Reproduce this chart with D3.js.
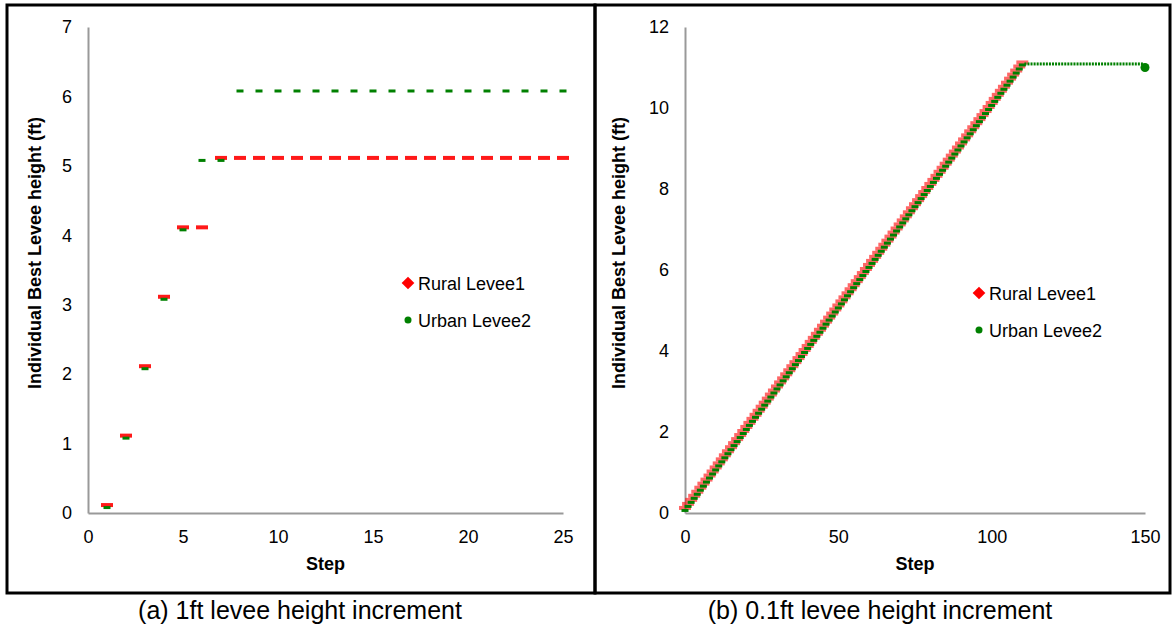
<!DOCTYPE html>
<html>
<head>
<meta charset="utf-8">
<script src="https://cdn.jsdelivr.net/npm/d3@7"></script>
<style>
  body { margin: 0; background: #fff; }
  text { font-family: "Liberation Sans", Arial, sans-serif; }
</style>
</head>
<body>
<div id="canvas"></div>
<script>
// panel (a): 1ft increment, steps 1..25
const stepsA = d3.range(1, 26);
const ruralA = [0.1, 1.1, 2.1, 3.1, 4.1, 4.1, 5.1, 5.1, 5.1, 5.1, 5.1, 5.1, 5.1, 5.1, 5.1, 5.1, 5.1, 5.1, 5.1, 5.1, 5.1, 5.1, 5.1, 5.1, 5.1];
const urbanA = [0.1, 1.1, 2.1, 3.1, 4.1, 5.1, 5.1, 6.1, 6.1, 6.1, 6.1, 6.1, 6.1, 6.1, 6.1, 6.1, 6.1, 6.1, 6.1, 6.1, 6.1, 6.1, 6.1, 6.1, 6.1];

// panel (b): 0.1ft increment, steps 0..150
const ruralB = [
  0.1, 0.2, 0.3, 0.4, 0.5, 0.6, 0.7, 0.8, 0.9, 1.0,
  1.1, 1.2, 1.3, 1.4, 1.5, 1.6, 1.7, 1.8, 1.9, 2.0,
  2.1, 2.2, 2.3, 2.4, 2.5, 2.6, 2.7, 2.8, 2.9, 3.0,
  3.1, 3.2, 3.3, 3.4, 3.5, 3.6, 3.7, 3.8, 3.9, 4.0,
  4.1, 4.2, 4.3, 4.4, 4.5, 4.6, 4.7, 4.8, 4.9, 5.0,
  5.1, 5.2, 5.3, 5.4, 5.5, 5.6, 5.7, 5.8, 5.9, 6.0,
  6.1, 6.2, 6.3, 6.4, 6.5, 6.6, 6.7, 6.8, 6.9, 7.0,
  7.1, 7.2, 7.3, 7.4, 7.5, 7.6, 7.7, 7.8, 7.9, 8.0,
  8.1, 8.2, 8.3, 8.4, 8.5, 8.6, 8.7, 8.8, 8.9, 9.0,
  9.1, 9.2, 9.3, 9.4, 9.5, 9.6, 9.7, 9.8, 9.9, 10.0,
  10.1, 10.2, 10.3, 10.4, 10.5, 10.6, 10.7, 10.8, 10.9, 11.0,
  11.1
];
const urbanBFlat = [
  11.1, 11.1, 11.1, 11.1, 11.1, 11.1, 11.1, 11.1, 11.1, 11.1,
  11.1, 11.1, 11.1, 11.1, 11.1, 11.1, 11.1, 11.1, 11.1, 11.1,
  11.1, 11.1, 11.1, 11.1, 11.1, 11.1, 11.1, 11.1, 11.1, 11.1,
  11.1, 11.1, 11.1, 11.1, 11.1, 11.1, 11.1, 11.1, 11.1
];
const urbanBLast = 11.0;

const yTicksA = [0, 1, 2, 3, 4, 5, 6, 7];
const xTicksA = [0, 5, 10, 15, 20, 25];
const yTicksB = [0, 2, 4, 6, 8, 10, 12];
const xTicksB = [0, 50, 100, 150];

const seriesNames = ["Rural Levee1", "Urban Levee2"];
const red = "#ff0000";
const green = "#008000";
const font = "Liberation Sans, Arial, sans-serif";

const width = 1172;
const height = 631;

const svg = d3.select("#canvas").append("svg")
  .attr("width", width)
  .attr("height", height);

const defs = svg.append("defs");
defs.append("filter").attr("id", "soft")
  .append("feGaussianBlur").attr("stdDeviation", 0.7);

function panel(opt) {
  const g = svg.append("g");

  // frame
  g.append("rect")
    .attr("x", opt.box[0]).attr("y", opt.box[1])
    .attr("width", opt.box[2]).attr("height", opt.box[3])
    .attr("fill", "none").attr("stroke", "#000").attr("stroke-width", 3);

  const x = d3.scaleLinear().domain(opt.xDomain).range([opt.x0, opt.x1]);
  const y = d3.scaleLinear().domain(opt.yDomain).range([513, 27]);

  // axes
  g.append("g")
    .attr("transform", "translate(0,513)")
    .call(d3.axisBottom(x).tickValues(opt.xTicks).tickFormat(d3.format("d")).tickSize(0).tickPadding(17))
    .call(a => a.select(".domain").attr("stroke", "#999").attr("stroke-width", 2))
    .call(a => a.selectAll("text").attr("font-size", 18).attr("fill", "#000").attr("font-family", font));

  g.append("g")
    .attr("transform", `translate(${opt.x0},0)`)
    .call(d3.axisLeft(y).tickValues(opt.yTicks).tickFormat(d3.format("d")).tickSize(0).tickPadding(16))
    .call(a => a.select(".domain").attr("stroke", "#999").attr("stroke-width", 2))
    .call(a => a.selectAll("text").attr("font-size", 18).attr("fill", "#000").attr("font-family", font));

  // axis titles
  g.append("text")
    .attr("x", (opt.x0 + opt.x1) / 2).attr("y", 570)
    .attr("text-anchor", "middle")
    .attr("font-size", 18).attr("font-weight", "bold")
    .text("Step");

  g.append("text")
    .attr("transform", `translate(${opt.titleX},253) rotate(-90)`)
    .attr("text-anchor", "middle")
    .attr("font-size", 18).attr("font-weight", "bold")
    .text("Individual Best Levee height (ft)");

  // caption
  g.append("text")
    .attr("x", opt.captionX).attr("y", 619)
    .attr("text-anchor", "middle")
    .attr("font-size", 25)
    .text(opt.caption);

  const marks = g.append("g").attr("filter", "url(#soft)");

  marks.selectAll(".rural")
    .data(opt.rural)
    .enter().append("rect")
    .attr("class", "rural")
    .attr("x", d => x(d.step) - 6)
    .attr("y", d => y(d.value) - 3)
    .attr("width", 12).attr("height", 4)
    .attr("fill", red)
    .attr("fill-opacity", opt.redOpacity);

  marks.selectAll(".urban")
    .data(opt.urban)
    .enter().append("rect")
    .attr("class", "urban")
    .attr("x", d => x(d.step) - (d.flat ? 1 : 3.5))
    .attr("y", d => y(d.value) + (d.flat ? -1 : 0))
    .attr("width", d => d.flat ? 2 : 7)
    .attr("height", 3)
    .attr("fill", green);

  // legend
  const lg = g.append("g").attr("transform", `translate(${opt.legend[0]},${opt.legend[1]})`);
  lg.append("rect")
    .attr("x", -4.5).attr("y", -4.5).attr("width", 9).attr("height", 9)
    .attr("transform", "rotate(45)")
    .attr("fill", red);
  lg.append("circle").attr("cx", 0).attr("cy", 37).attr("r", 3.5).attr("fill", green);
  lg.selectAll(".lbl")
    .data(seriesNames)
    .enter().append("text")
    .attr("class", "lbl")
    .attr("x", 10).attr("y", (d, i) => i * 37 + 7)
    .attr("font-size", 18)
    .text(d => d);

  return { g, x, y };
}

// point lists for panel (a)
const ruralPtsA = stepsA.map((s, i) => ({ step: s, value: ruralA[i] }));
const urbanPtsA = stepsA.map((s, i) => ({ step: s, value: urbanA[i] }));

panel({
  box: [7, 5, 588, 588],
  x0: 88, x1: 563,
  xDomain: [0, 25], yDomain: [0, 7],
  xTicks: xTicksA, yTicks: yTicksA,
  titleX: 41,
  captionX: 300,
  caption: "(a) 1ft levee height increment",
  rural: ruralPtsA,
  urban: urbanPtsA,
  redOpacity: 0.9,
  legend: [408, 283]
});

// point lists for panel (b)
const ruralPtsB = ruralB.map((v, i) => ({ step: i, value: v }));
const urbanPtsB = ruralB.map((v, i) => ({ step: i, value: v }))
  .concat(urbanBFlat.map((v, i) => ({ step: ruralB.length + i, value: v, flat: true })));

const pb = panel({
  box: [595, 5, 575, 588],
  x0: 685, x1: 1145,
  xDomain: [0, 150], yDomain: [0, 12],
  xTicks: xTicksB, yTicks: yTicksB,
  titleX: 625,
  captionX: 880,
  caption: "(b) 0.1ft levee height increment",
  rural: ruralPtsB,
  urban: urbanPtsB,
  redOpacity: 0.6,
  legend: [979, 293]
});

// final urban point at step 150
pb.g.append("circle")
  .attr("cx", pb.x(150))
  .attr("cy", pb.y(urbanBLast))
  .attr("r", 4.5)
  .attr("fill", green);
</script>
</body>
</html>
